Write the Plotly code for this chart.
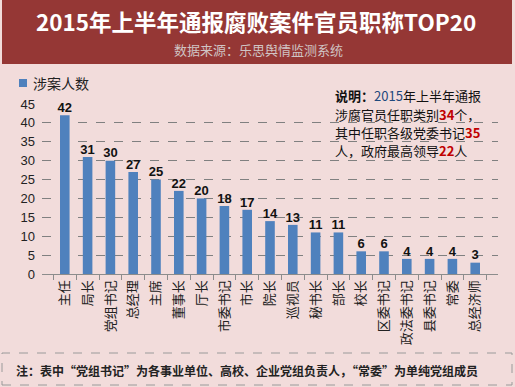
import plotly.graph_objects as go

categories = ["主任", "局长", "党组书记", "总经理", "主席", "董事长", "厅长", "市委书记", "市长",
              "院长", "巡视员", "秘书长", "部长", "校长", "区委书记", "政法委书记", "县委书记", "常委", "总经济师"]
values = [42, 31, 30, 27, 25, 22, 20, 18, 17, 14, 13, 11, 11, 6, 6, 4, 4, 4, 3]
y_ticks = [0, 5, 10, 15, 20, 25, 30, 35, 40, 45]
series_name = "涉案人数"

W, H = 515, 387
L, R, T, B = 42, 17, 104, 113
PW, PH = W - L - R, H - T - B


def px(xp):
    return (xp - L) / PW


def py(yp):
    return (H - B - yp) / PH


CJK = "Noto Sans CJK SC"

fig = go.Figure()
fig.add_trace(go.Bar(
    x=categories, y=values, name=series_name,
    marker=dict(color="#4F81BD", line=dict(width=0)),
    showlegend=False,
))
fig.add_trace(go.Scatter(
    x=categories, y=values, mode="text",
    text=["<b>%d</b>" % v for v in values], textposition="top center",
    textfont=dict(family="Liberation Sans, Arial", size=13, color="#111111"),
    cliponaxis=False, showlegend=False, hoverinfo="skip",
))

fig.update_layout(
    width=W, height=H,
    margin=dict(l=L, r=R, t=T, b=B),
    paper_bgcolor="#F2DCDB", plot_bgcolor="#F2DCDB",
    bargap=0.58,
    font=dict(family=CJK, size=13, color="#222222"),
    showlegend=False,
    xaxis=dict(
        tickangle=-90, showgrid=False, showline=True, linecolor="#8C8C8C", linewidth=1,
        ticks="outside", tickson="boundaries", ticklen=5, tickcolor="#8C8C8C",
        tickfont=dict(family=CJK, size=13, color="#222222"),
    ),
    yaxis=dict(
        range=[0, 45], tickvals=y_ticks, showline=False, zeroline=False,
        showgrid=True, gridcolor="#808080", griddash="dash", gridwidth=1,
        tickfont=dict(family="Liberation Sans, Arial", size=13, color="#222222"),
        ticks="", ticklabelstandoff=6,
    ),
)

shapes = [
    dict(type="rect", xref="paper", yref="paper", x0=px(2), x1=px(512), y0=py(64), y1=py(0),
         fillcolor="#953735", line=dict(width=0), layer="below"),
    dict(type="rect", xref="paper", yref="paper", x0=px(2), x1=px(512), y0=py(385), y1=py(353),
         fillcolor="rgba(0,0,0,0)", line=dict(color="#9A9A9A", width=1, dash="dash")),
    dict(type="rect", xref="paper", yref="paper", x0=px(19), x1=px(27), y0=py(87), y1=py(79),
         fillcolor="#4F81BD", line=dict(width=0)),
]
fig.update_layout(shapes=shapes)

note_lines = [
    "<b>说明：</b><span style='color:#1F497D'>2015</span>年上半年通报",
    "涉腐官员任职类别<b><span style='color:#C00000'>34</span></b>个，",
    "其中任职各级党委书记<b><span style='color:#C00000'>35</span></b>",
    "人，政府最高领导<b><span style='color:#C00000'>22</span></b>人",
]
note_y = [96, 114, 132, 150]

annotations = [
    dict(text="<b>2015年上半年通报腐败案件官员职称TOP20</b>", xref="paper", yref="paper",
         x=px(256), y=py(21), xanchor="center", yanchor="middle", showarrow=False,
         font=dict(family=CJK, size=22.5, color="#FFFFFF")),
    dict(text="数据来源：乐思舆情监测系统", xref="paper", yref="paper",
         x=px(258), y=py(49), xanchor="center", yanchor="middle", showarrow=False,
         font=dict(family=CJK, size=13, color="#D0C4C4")),
    dict(text=series_name, xref="paper", yref="paper",
         x=px(31), y=py(83), xanchor="left", yanchor="middle", showarrow=False,
         font=dict(family=CJK, size=14, color="#222222")),
    dict(text="<b>注：表中“党组书记”为各事业单位、高校、企业党组负责人，“常委”为单纯党组成员</b>",
         xref="paper", yref="paper", x=px(14), y=py(370), xanchor="left", yanchor="middle",
         showarrow=False, font=dict(family=CJK, size=12, color="#222222")),
]
for line, yy in zip(note_lines, note_y):
    annotations.append(dict(text=line, xref="paper", yref="paper", x=px(333), y=py(yy),
                            xanchor="left", yanchor="middle", align="left", showarrow=False,
                            font=dict(family=CJK, size=13, color="#111111")))
fig.update_layout(annotations=annotations)

fig.write_html("out.html", config={"displayModeBar": False},
               post_script="document.body.style.margin='0px';document.body.style.overflow='hidden';")
